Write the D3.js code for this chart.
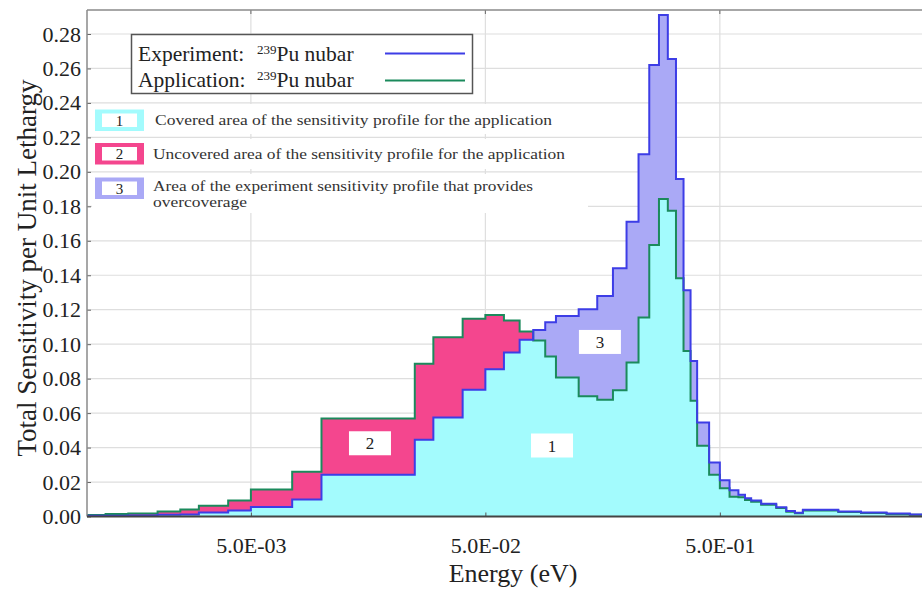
<!DOCTYPE html>
<html>
<head>
<meta charset="utf-8">
<script src="https://cdn.jsdelivr.net/npm/d3@7"></script>
<style>
  html, body { margin: 0; padding: 0; background: #fff; }
  svg { display: block; }
  svg text { font-family: "Liberation Serif", "Times New Roman", serif; }
</style>
</head>
<body>
<svg id="chart" width="922" height="593"></svg>
<script>
// Energy group boundaries (eV) shared by both sensitivity profiles
const energyEdges = [0.001, 0.0012, 0.0015, 0.002, 0.0025, 0.003, 0.004, 0.005, 0.0075, 0.01,
  0.025, 0.03, 0.04, 0.05, 0.06, 0.07, 0.08, 0.09, 0.1, 0.125, 0.15, 0.175, 0.2, 0.225, 0.25,
  0.275, 0.3, 0.325, 0.35, 0.375, 0.4, 0.45, 0.5, 0.55, 0.6, 0.64, 0.68, 0.75, 0.87, 0.96,
  1.045, 1.13, 1.6, 2.0, 2.57, 3.23, 3.64];

// Sensitivity per unit lethargy in each group: experiment (239Pu nubar)
const experiment = [0.0005, 0.0005, 0.0006, 0.0010, 0.0011, 0.0023, 0.0035, 0.0055, 0.0098,
  0.0242, 0.0445, 0.0574, 0.0735, 0.0855, 0.0952, 0.1025, 0.1083, 0.1127, 0.1163, 0.1203,
  0.1280, 0.1441, 0.1711, 0.2102, 0.2620, 0.2910, 0.2655, 0.1959, 0.1313, 0.0903, 0.0545,
  0.0313, 0.0211, 0.0153, 0.0126, 0.0106, 0.0093, 0.0074, 0.0054, 0.0032, 0.0022, 0.0039,
  0.0029, 0.0023, 0.0017, 0.0012];

// Sensitivity per unit lethargy in each group: application (239Pu nubar)
const application = [0.0008, 0.0014, 0.0017, 0.0029, 0.0041, 0.0062, 0.0093, 0.0157, 0.0259,
  0.0568, 0.0886, 0.1040, 0.1147, 0.1170, 0.1137, 0.1073, 0.1021, 0.0928, 0.0807, 0.0698,
  0.0677, 0.0733, 0.0894, 0.1155, 0.1576, 0.1843, 0.1775, 0.1382, 0.0961, 0.0671, 0.0410,
  0.0242, 0.0164, 0.0114, 0.0112, 0.0096, 0.0085, 0.0068, 0.0049, 0.0028, 0.0019, 0.0035,
  0.0026, 0.0020, 0.0015, 0.0010];

const yTickValues = [0, 0.02, 0.04, 0.06, 0.08, 0.10, 0.12, 0.14, 0.16, 0.18, 0.20, 0.22, 0.24, 0.26, 0.28];
const xTickValues = [0.005, 0.05, 0.5];
const xTickLabels = ["5.0E-03", "5.0E-02", "5.0E-01"];

const seriesNames = ["Experiment:", "Application:"];
const legendItems = [
  ["Covered area of the sensitivity profile for the application"],
  ["Uncovered area of the sensitivity profile for the application"],
  ["Area of the experiment sensitivity profile that provides", "overcoverage"]
];
// Region markers placed inside the filled areas (energy, sensitivity)
const regionMarkers = [
  { id: "1", e: 0.0962, v: 0.0412 },
  { id: "2", e: 0.0161, v: 0.0425 },
  { id: "3", e: 0.154, v: 0.1013 }
];

const colors = {
  covered: "#a3fbfd",
  uncovered: "#f4468e",
  over: "#aaa9f6",
  expLine: "#3d3de6",
  appLine: "#1b8a5c",
  grid: "#dedede"
};

const FONT = '"Liberation Serif", "Times New Roman", serif';
const svg = d3.select("#chart");
const plot = { left: 87, right: 922, top: 10, bottom: 516.5 };

const x = d3.scaleLog().domain([0.001, 3.64]).range([plot.left, plot.right]);
const y = d3.scaleLinear().domain([0, 0.28]).range([plot.bottom, 34]);

// Step points: each edge carries the value of the group starting there
const nBins = experiment.length;
const pts = energyEdges.map((e, i) => {
  const k = Math.min(i, nBins - 1);
  return { e, b: experiment[k], g: application[k] };
});

// Grid
const grid = svg.append("g");
grid.selectAll("line.h").data(yTickValues.slice(1)).join("line")
  .attr("x1", plot.left).attr("x2", plot.right)
  .attr("y1", d => y(d)).attr("y2", d => y(d))
  .attr("stroke", colors.grid).attr("stroke-width", 1.2);
grid.selectAll("line.v").data(xTickValues).join("line")
  .attr("x1", d => x(d)).attr("x2", d => x(d))
  .attr("y1", plot.top).attr("y2", plot.bottom)
  .attr("stroke", colors.grid).attr("stroke-width", 1.2);

// Filled regions: covered (below both), uncovered (application above experiment),
// overcoverage (experiment above application)
const stepArea = () => d3.area().curve(d3.curveStepAfter).x(d => x(d.e));
svg.append("path")
  .attr("fill", colors.covered)
  .attr("d", stepArea().y0(y(0)).y1(d => y(Math.min(d.b, d.g)))(pts));
svg.append("path")
  .attr("fill", colors.uncovered)
  .attr("d", stepArea().y0(d => y(d.b)).y1(d => y(Math.max(d.b, d.g)))(pts));
svg.append("path")
  .attr("fill", colors.over)
  .attr("d", stepArea().y0(d => y(d.g)).y1(d => y(Math.max(d.b, d.g)))(pts));

// Profile lines
const lineG = d3.line().curve(d3.curveStepAfter).x(d => x(d.e)).y(d => y(d.g));
const lineB = d3.line().curve(d3.curveStepAfter).x(d => x(d.e)).y(d => y(d.b));
svg.append("path").attr("d", lineG(pts)).attr("fill", "none")
  .attr("stroke", colors.appLine).attr("stroke-width", 2);
svg.append("path").attr("d", lineB(pts)).attr("fill", "none")
  .attr("stroke", colors.expLine).attr("stroke-width", 2);

// Region markers
const mk = svg.append("g").selectAll("g").data(regionMarkers).join("g")
  .attr("transform", d => `translate(${x(d.e)},${y(d.v)})`);
mk.append("rect").attr("x", -21).attr("y", -12).attr("width", 42).attr("height", 24).attr("fill", "#fff");
mk.append("text").attr("text-anchor", "middle").attr("y", 6)
  .style("font-family", FONT).attr("font-size", 17).attr("fill", "#222").text(d => d.id);

// Axes
const yAxis = d3.axisLeft(y).tickValues(yTickValues).tickFormat(d3.format(".2f")).tickSize(-4).tickPadding(6);
const gy = svg.append("g").attr("transform", `translate(${plot.left},0)`).call(yAxis);
gy.attr("font-family", null);
gy.select(".domain").remove();
gy.selectAll(".tick line").attr("stroke", "#666");
gy.selectAll(".tick text").style("font-family", FONT).attr("font-size", 22).attr("fill", "#222");

const xAxis = d3.axisBottom(x).tickValues(xTickValues)
  .tickFormat((d, i) => xTickLabels[i]).tickSize(-4).tickPadding(21);
const gx = svg.append("g").attr("transform", `translate(0,${plot.bottom})`).call(xAxis);
gx.attr("font-family", null);
gx.select(".domain").remove();
gx.selectAll(".tick line").attr("stroke", "#555");
gx.selectAll(".tick text").style("font-family", FONT).attr("font-size", 22).attr("fill", "#222");

// Top ticks
svg.append("g").selectAll("line").data(xTickValues).join("line")
  .attr("x1", d => x(d)).attr("x2", d => x(d)).attr("y1", plot.top).attr("y2", plot.top + 4)
  .attr("stroke", "#666");

// Frame lines
svg.append("line").attr("x1", plot.left).attr("x2", plot.right).attr("y1", plot.top).attr("y2", plot.top)
  .attr("stroke", "#8a8a8a").attr("stroke-width", 1.5);
svg.append("line").attr("x1", plot.left).attr("x2", plot.left).attr("y1", plot.top).attr("y2", plot.bottom)
  .attr("stroke", "#8a8a8a").attr("stroke-width", 1.5);
svg.append("line").attr("x1", plot.left).attr("x2", plot.right).attr("y1", plot.bottom).attr("y2", plot.bottom)
  .attr("stroke", "#444").attr("stroke-width", 2);

// Axis titles
svg.append("text").attr("x", 513).attr("y", 582).attr("text-anchor", "middle")
  .style("font-family", FONT).attr("font-size", 26).attr("fill", "#222").text("Energy (eV)");
svg.append("text").attr("transform", "translate(36,268) rotate(-90)").attr("text-anchor", "middle")
  .style("font-family", FONT).attr("font-size", 27).attr("fill", "#222").text("Total Sensitivity per Unit Lethargy");

// Series legend
const lg = svg.append("g");
lg.append("rect").attr("x", 131.5).attr("y", 34.5).attr("width", 341).attr("height", 59)
  .attr("fill", "#fff").attr("stroke", "#555").attr("stroke-width", 1.5);
const legendRows = [
  { name: seriesNames[0], color: colors.expLine, yb: 61, yl: 53.5 },
  { name: seriesNames[1], color: colors.appLine, yb: 87, yl: 80.5 }
];
legendRows.forEach(r => {
  const t = lg.append("text").attr("x", 138).attr("y", r.yb)
    .style("font-family", FONT).attr("font-size", 21.5).attr("fill", "#222");
  t.append("tspan").text(r.name);
  t.append("tspan").attr("x", 257).attr("dy", -7).attr("font-size", 13).text("239");
  t.append("tspan").attr("dy", 7).text("Pu nubar");
  lg.append("line").attr("x1", 385).attr("x2", 465).attr("y1", r.yl).attr("y2", r.yl)
    .attr("stroke", r.color).attr("stroke-width", 2);
});

// Area legend
const areaColors = [colors.covered, colors.uncovered, colors.over];
const itemTop = [104, 139, 174];
const itemBottom = [134, 169, 213];
const itemWidths = [[397], [412], [380, 94]];
const ai = svg.append("g");
legendItems.forEach((lines, i) => {
  ai.append("rect").attr("x", 92).attr("y", itemTop[i]).attr("width", 496)
    .attr("height", itemBottom[i] - itemTop[i]).attr("fill", "#fff");
  const by = [109.5, 143, 177.5][i];
  ai.append("rect").attr("x", 95).attr("y", by).attr("width", 49).attr("height", 21.5).attr("fill", areaColors[i]);
  ai.append("rect").attr("x", 102).attr("y", by + 4).attr("width", 35).attr("height", 13.5).attr("fill", "#fff");
  ai.append("text").attr("x", 119.5).attr("y", by + 16).attr("text-anchor", "middle")
    .style("font-family", FONT).attr("font-size", 15).attr("fill", "#222").text(String(i + 1));
  lines.forEach((s, j) => {
    ai.append("text").attr("x", i === 0 ? 155 : 153).attr("y", [125, 158.5, 191][i] + j * 15.5)
      .style("font-family", FONT).attr("font-size", 15.5).attr("fill", "#333")
      .attr("textLength", itemWidths[i][j]).attr("lengthAdjust", "spacingAndGlyphs")
      .text(s);
  });
});
</script>
</body>
</html>
